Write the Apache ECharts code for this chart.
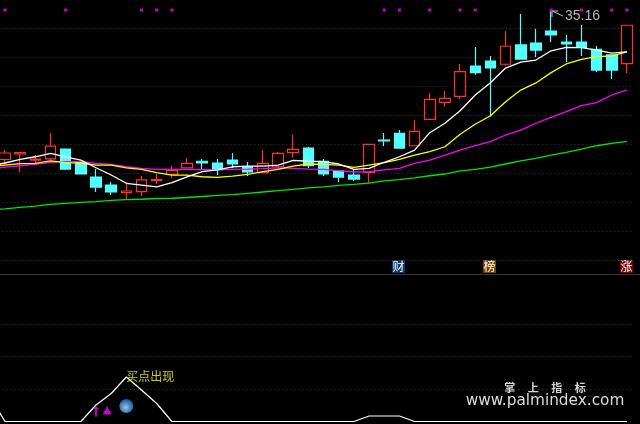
<!DOCTYPE html>
<html><head><meta charset="utf-8">
<style>html,body{margin:0;padding:0;background:#000}#c{width:640px;height:424px}</style>
<script src="https://cdn.jsdelivr.net/npm/echarts@6/dist/echarts.min.js"></script>
</head><body><div id="c"></div>
<script>
// Leading empty category carries only the moving-average lines off the left edge.
const categories = ['p','1','2','3','4','5','6','7','8','9','10','11','12','13','14','15','16','17','18','19','20','21','22','23','24','25','26','27','28','29','30','31','32','33','34','35','36','37','38','39','40','41','42'];
const opens  = [24.93,25.31,24.89,24.98,25.65,24.71,23.72,23.17,22.64,22.71,23.48,23.91,24.36,24.81,24.69,24.89,24.43,24.02,24.43,25.40,25.72,24.81,24.14,23.86,24.05,26.27,26.74,25.88,27.70,28.87,29.29,31.38,31.72,31.50,32.83,32.96,33.79,33.03,33.03,32.53,32.14,31.54];
const closes = [25.38,25.41,24.96,25.86,24.27,23.93,23.03,22.69,22.76,23.52,23.55,24.18,24.67,24.69,24.23,24.62,24.07,24.67,25.36,25.63,24.50,23.93,23.72,23.58,25.98,26.21,25.72,26.87,29.08,29.15,30.99,30.92,31.24,32.74,31.86,32.48,33.52,32.90,32.67,31.10,31.10,34.19];
const lows   = [24.55,24.07,24.55,24.89,24.27,23.93,22.69,22.48,22.21,22.41,23.24,23.67,24.36,24.27,23.86,24.34,23.79,24.02,24.34,25.05,24.34,23.79,23.38,23.45,23.31,25.86,25.72,25.88,27.70,28.57,29.10,30.78,27.88,31.40,31.86,32.00,33.03,31.65,32.07,30.96,30.48,30.90];
const highs  = [25.58,25.45,25.24,26.76,25.65,24.71,24.27,23.38,23.38,23.79,23.93,24.48,25.03,24.96,24.96,25.38,24.76,25.58,25.45,26.62,25.79,24.96,24.21,24.27,25.98,26.76,26.96,27.65,29.52,29.65,31.52,32.69,32.07,33.79,34.96,33.93,35.16,33.52,34.21,32.76,32.14,34.19];
const ma5  = [24.48,24.69,24.94,25.12,25.36,25.12,24.89,24.36,23.86,23.29,23.17,23.05,23.33,23.74,24.09,24.21,24.43,24.48,24.48,24.55,24.87,24.81,24.78,24.62,24.25,24.32,24.74,25.12,25.58,26.78,27.43,28.29,29.38,30.23,31.24,31.65,31.79,32.43,32.67,32.64,32.48,32.27,32.36];
const ma10 = [24.48,24.55,24.64,24.67,24.83,24.71,24.69,24.55,24.55,24.36,24.25,24.02,23.86,23.86,23.74,23.70,23.79,23.91,24.09,24.25,24.48,24.62,24.60,24.55,24.39,24.55,24.71,24.94,25.24,25.47,25.81,26.67,27.36,27.95,28.92,29.72,30.21,30.92,31.52,31.84,32.02,32.07,32.36];
const ma20 = [24.27,24.41,24.50,24.60,24.74,24.78,24.78,24.67,24.60,24.43,24.32,24.25,24.25,24.25,24.23,24.21,24.25,24.27,24.30,24.36,24.32,24.27,24.25,24.16,24.07,24.09,24.21,24.32,24.67,24.89,25.24,25.58,25.88,26.16,26.62,26.96,27.43,27.84,28.23,28.64,28.85,29.38,29.72];
const ma60 = [21.48,21.52,21.63,21.72,21.84,21.91,21.97,22.03,22.11,22.17,22.19,22.24,22.26,22.31,22.38,22.45,22.51,22.60,22.69,22.78,22.87,22.98,23.05,23.15,23.22,23.30,23.45,23.55,23.66,23.81,23.93,24.14,24.25,24.41,24.62,24.83,25.01,25.24,25.43,25.65,25.88,26.05,26.18];
const signal = [25,0,0,0,0,0,0,16.5,28,44.5,31.5,18,0,0,0,0,0,0,0,0,0,0,0,0,0,5.5,5.5,5.5,0,0,0,0,0,0,0,0,0,0,0,0,0,0,0];
const markerIdx = [1,5,10,11,12,26,27,29,31,32,37,39,41,42];
const markerPrice = 35.24;
const highLabel = '35.16';

const candleData = opens.map((o,i)=>[o,closes[i],lows[i],highs[i]]);
const chart = echarts.init(document.getElementById('c'),null,{renderer:'canvas'});
const dotted = {show:true,lineStyle:{color:'#3c3c3c',type:[1,3],width:1}};
const line = (name,data,color)=>({name,type:'line',data,clip:false,symbol:'none',silent:true,
  lineStyle:{color,width:1.3},z:5,animation:false});
const arrowPath='path://M5,0 L10,5 L6.5,5 L6.5,20 L3.5,20 L3.5,5 L0,5 Z';
const triPath='path://M4,0 L6,0 L6,3 L7,3 L7,6 L9,6 L9,9 L10,9 L10,11 L0,11 L0,9 L1,9 L1,6 L3,6 L3,3 L4,3 Z';
chart.setOption({
  animation:false,backgroundColor:'#000',
  grid:[
    {left:-17.76,width:652.31,top:28,height:232,outerBoundsMode:'none'},
    {left:-17.76,width:652.31,top:324,height:65,outerBoundsMode:'none'}
  ],
  xAxis:[
    {type:'category',data:categories,gridIndex:0,axisLine:{show:false},axisTick:{show:false},axisLabel:{show:false}},
    {type:'category',data:categories,gridIndex:1,axisLine:{show:false},axisTick:{show:false},axisLabel:{show:false}}
  ],
  yAxis:[
    {type:'value',gridIndex:0,min:18,max:34,interval:2,axisLine:{show:false},axisTick:{show:false},axisLabel:{show:false},splitLine:dotted},
    {type:'value',gridIndex:1,min:32.5,max:97.5,interval:32.5,axisLine:{show:false},axisTick:{show:false},axisLabel:{show:false},splitLine:dotted}
  ],
  series:[
    {type:'candlestick',clip:false,barWidth:11,z:3,
     data:[null].concat(candleData).map(d=>d===null?['-','-','-','-']:d),
     itemStyle:{color:'#000',color0:'#54ffff',borderColor:'#ff3232',borderColor0:'#54ffff',borderWidth:1.2}},
    line('MA60',ma60,'#00e600'),
    line('MA20',ma20,'#ff00ff'),
    line('MA10',ma10,'#ffff00'),
    line('MA5',ma5,'#ffffff'),
    {type:'scatter',clip:false,symbol:'rect',symbolSize:3,itemStyle:{color:'#ff00ff'},z:6,
     data:markerIdx.map(i=>[i,markerPrice])},
    {type:'line',xAxisIndex:1,yAxisIndex:1,data:signal,clip:false,symbol:'none',lineStyle:{color:'#fff',width:1.2},z:5},
    {type:'scatter',xAxisIndex:1,yAxisIndex:1,clip:false,symbol:arrowPath,symbolSize:[6,10],itemStyle:{color:'#ff00ff'},
     data:[[7,10]],z:6},
    {type:'scatter',xAxisIndex:1,yAxisIndex:1,clip:false,symbol:triPath,symbolSize:[8,8],symbolOffset:[-4,0],itemStyle:{color:'#ff00ff'},
     data:[[8,11]],z:6},
    {type:'scatter',xAxisIndex:1,yAxisIndex:1,clip:false,symbol:'circle',symbolSize:14,z:6,
     itemStyle:{color:new echarts.graphic.RadialGradient(0.45,0.6,0.6,[
       {offset:0,color:'#d5efff'},{offset:0.5,color:'#5ab4f4'},{offset:1,color:'#1a66b8'}])},
     data:[[9,15.5]]},
    {type:'scatter',xAxisIndex:1,yAxisIndex:1,clip:false,symbolSize:0,z:7,
     data:[[9,45.5]],
     label:{show:true,position:'right',distance:0,formatter:'买点出现',color:'#ffff00',
       fontFamily:'"Noto Sans CJK SC"',fontSize:12}}
  ],
  graphic:[
    {type:'rect',shape:{x:0,y:274,width:640,height:1},style:{fill:'#3a3a3a'},silent:true},
    {type:'polyline',shape:{points:[[558,11],[552,11],[552,17]]},style:{stroke:'#c0c0c0',fill:null,lineWidth:1},silent:true},
    {type:'polyline',shape:{points:[[552,11],[563,16]]},style:{stroke:'#c0c0c0',fill:null,lineWidth:1},silent:true},
    {type:'text',style:{x:565,y:16,text:highLabel,fill:'#b8b8b8',font:'14px "Liberation Sans"',verticalAlign:'middle'}},
    {type:'rect',shape:{x:392,y:260,width:13,height:13},style:{fill:'#0b3a72'}},
    {type:'text',style:{x:398.5,y:266.5,text:'财',fill:'#fff',font:'12px "Noto Sans CJK SC"',align:'center',verticalAlign:'middle'}},
    {type:'rect',shape:{x:483,y:260,width:13,height:13},style:{fill:'#7a4204'}},
    {type:'text',style:{x:489.5,y:266.5,text:'榜',fill:'#fff',font:'12px "Noto Sans CJK SC"',align:'center',verticalAlign:'middle'}},
    {type:'rect',shape:{x:620,y:260,width:13,height:13},style:{fill:'#7a0000'}},
    {type:'text',style:{x:626.5,y:266.5,text:'涨',fill:'#fff',font:'12px "Noto Sans CJK SC"',align:'center',verticalAlign:'middle'}},
    {type:'text',style:{x:545,y:388,text:'掌     上     指     标',fill:'#d8d8d8',font:'bold 11px "Noto Sans CJK SC"',align:'center',verticalAlign:'middle'}},
    {type:'text',style:{x:545,y:401,text:'www.palmindex.com',fill:'#dcdcdc',font:'15.3px "DejaVu Sans"',align:'center',verticalAlign:'middle'}}
  ]
});
</script></body></html>
